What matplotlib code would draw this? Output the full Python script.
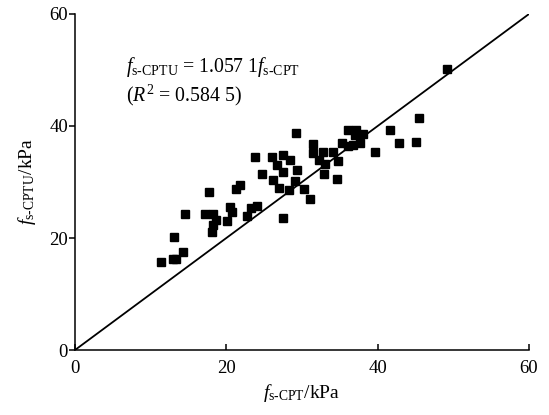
import numpy as np
import matplotlib.pyplot as plt

plt.rcParams['font.family'] = 'Liberation Serif'
plt.rcParams['mathtext.fontset'] = 'custom'
plt.rcParams['mathtext.rm'] = 'Liberation Serif'
plt.rcParams['mathtext.it'] = 'Liberation Serif:italic'

# f_s from CPT (x) and CPTU (y), kPa
fs_cpt = [11.4, 12.9, 13.4, 13.1, 14.3, 14.5, 17.2, 17.7, 18.3, 18.1,
          18.3, 18.7, 20.1, 20.5, 20.7, 21.3, 21.8, 22.7, 23.3, 24.1,
          23.8, 24.7, 26.0, 26.2, 26.7, 27.0, 27.5, 27.5, 27.5, 28.4,
          28.3, 29.1, 29.2, 29.3, 30.3, 31.1, 31.5, 31.5, 32.2, 32.8,
          33.0, 32.9, 34.1, 34.7, 34.6, 35.3, 36.1, 36.8, 37.6, 36.1,
          37.2, 37.0, 38.0, 39.6, 41.6, 42.8, 45.1, 45.5, 49.2]
fs_cptu = [15.8, 16.3, 16.3, 20.1, 17.5, 24.2, 24.2, 28.3, 24.2, 21.1,
           22.3, 23.3, 23.0, 25.5, 24.6, 28.75, 29.5, 24.0, 25.3, 25.8,
           34.5, 31.5, 34.4, 30.3, 33.0, 29.0, 23.6, 31.7, 34.9, 34.0,
           28.6, 30.1, 38.7, 32.2, 28.75, 26.9, 36.8, 35.1, 33.9, 35.3,
           33.3, 31.5, 35.4, 33.75, 30.6, 37.0, 36.4, 36.6, 36.9, 39.3,
           39.2, 38.4, 38.6, 35.4, 39.2, 37.0, 37.1, 41.5, 50.1]

# line as drawn in the figure
line_x = [0, 60]
line_y = [0, 60]

ticks = [0, 20, 40, 60]

fig = plt.figure(figsize=(5.49, 4.15), dpi=100)
ax = fig.add_axes([0.1366, 0.1566, 0.827, 0.8097])

ax.plot(line_x, line_y, color='black', lw=1.3, zorder=2)
ax.plot(fs_cpt, fs_cptu, 's', color='black', ms=5.8, mec='black', zorder=3)

ax.set_xlim(0, 60)
ax.set_ylim(0, 60)
ax.set_xticks(ticks)
ax.set_yticks(ticks)
ax.spines['top'].set_visible(False)
ax.spines['right'].set_visible(False)
for s in ('left', 'bottom'):
    ax.spines[s].set_linewidth(1.1)
ax.tick_params(axis='x', direction='in', length=4, width=1.1, labelsize=13.5, pad=7)
ax.tick_params(axis='y', direction='out', length=4, width=1.1, labelsize=13.5, pad=1)

ax.set_xlabel(r'$f_{\text{s-CPT}}$/kPa', fontsize=14, labelpad=4)
ax.set_ylabel(r'$f_{\text{s-CPTU}}$/kPa', fontsize=14, labelpad=8)

ax.text(6.8, 49.6, r'$f_{\text{s-CPTU}}$ = 1.057 1$f_{\text{s-CPT}}$', fontsize=14.3)
ax.text(6.8, 44.4, r'($R^2$ = 0.584 5)', fontsize=14.3)

fig.savefig('out.png', dpi=100)
